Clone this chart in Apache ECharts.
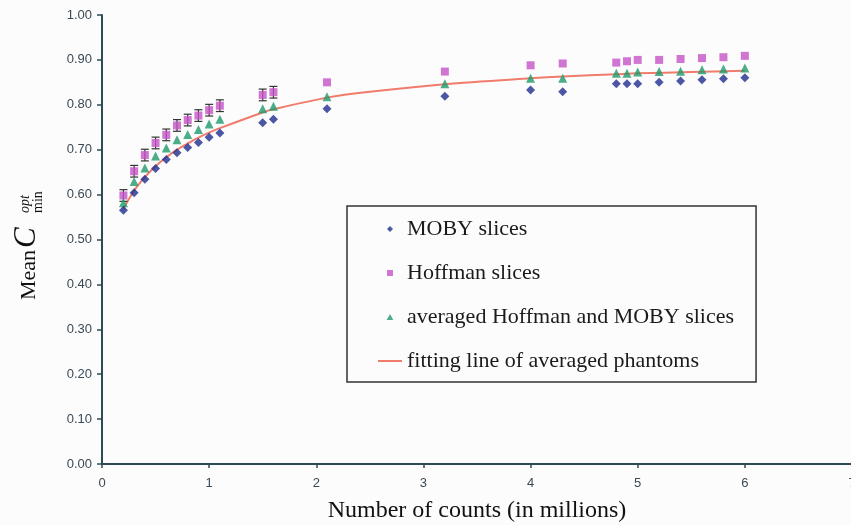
<!DOCTYPE html>
<html>
<head>
<meta charset="utf-8">
<script src="https://cdn.jsdelivr.net/npm/echarts@6/dist/echarts.min.js"></script>
<style>
html,body{margin:0;padding:0;background:#fdfcfc;}
#chart{width:851px;height:525px;}
</style>
</head>
<body>
<div id="chart"></div>
<script>
// Number of counts (millions)
var counts = [0.2,0.3,0.4,0.5,0.6,0.7,0.8,0.9,1.0,1.1,1.5,1.6,2.1,3.2,4.0,4.3,4.8,4.9,5.0,5.2,5.4,5.6,5.8,6.0];
var mobyValues = [0.565,0.604,0.634,0.658,0.678,0.693,0.705,0.716,0.728,0.737,0.760,0.768,0.791,0.819,0.833,0.829,0.847,0.847,0.847,0.850,0.853,0.856,0.858,0.860];
var hoffmanValues = [0.598,0.652,0.688,0.715,0.733,0.754,0.766,0.776,0.788,0.798,0.822,0.828,0.850,0.874,0.888,0.892,0.894,0.897,0.900,0.900,0.902,0.904,0.906,0.909];
var hoffmanErr = [0.013,0.013,0.013,0.013,0.013,0.013,0.013,0.013,0.013,0.013,0.013,0.013,0,0,0,0,0,0,0,0,0,0,0,0];
var averagedValues = [0.582,0.629,0.659,0.686,0.704,0.722,0.734,0.745,0.757,0.768,0.791,0.797,0.818,0.847,0.859,0.859,0.870,0.870,0.873,0.874,0.875,0.878,0.880,0.882];
var fitCounts = [0.2,0.3,0.4,0.5,0.6,0.7,0.8,0.9,1.0,1.1,1.5,1.6,2.1,2.5,3.2,4.0,4.3,4.8,5.0,5.5,6.0];
var fitValues = [0.568,0.609,0.639,0.663,0.683,0.700,0.714,0.727,0.738,0.748,0.783,0.790,0.816,0.829,0.846,0.859,0.863,0.868,0.870,0.873,0.876];
var xTicks = [0,1,2,3,4,5,6,7];
var seriesNames = ['MOBY slices','Hoffman slices','averaged Hoffman and MOBY slices','fitting line of averaged phantoms'];

function pairs(xs, ys){ return xs.map(function(x,i){ return [x, ys[i]]; }); }

var chart = echarts.init(document.getElementById('chart'), null, {renderer:'canvas'});
var axisColor = '#2f4a55';
var labelStyle = {fontFamily:'Liberation Sans', fontSize:13, color:'#3a4a55'};

var option = {
  backgroundColor:'#fdfcfc',
  animation:false,
  grid:{left:102, top:15, width:750, height:449, containLabel:false, outerBoundsMode:'none'},
  xAxis:{
    type:'value', min:0, max:7, interval:1,
    axisLine:{show:true, onZero:false, lineStyle:{color:axisColor, width:2}},
    axisTick:{show:true, length:4, lineStyle:{color:axisColor, width:1.5}},
    splitLine:{show:false},
    axisLabel:Object.assign({margin:13, formatter:function(v){return xTicks.indexOf(v)>=0? String(v):'';}}, labelStyle),
    name:'Number of counts (in millions)', nameLocation:'middle', nameGap:35,
    nameTextStyle:{fontFamily:'Liberation Serif', fontSize:24, color:'#111'}
  },
  yAxis:{
    type:'value', min:0, max:1, interval:0.1,
    axisLine:{show:true, lineStyle:{color:axisColor, width:2}},
    axisTick:{show:true, length:5, lineStyle:{color:axisColor, width:1.5}},
    splitLine:{show:false},
    axisLabel:Object.assign({margin:10, formatter:function(v){return v.toFixed(2);}}, labelStyle)
  },
  legend:{
    left:347, top:206, orient:'vertical',
    padding:[12,22,10,31],
    borderColor:'#333', borderWidth:1.5,
    itemWidth:24, itemHeight:6, itemGap:22,
    symbolKeepAspect:true,
    selectedMode:false,
    textStyle:{fontFamily:'Liberation Serif', fontSize:22, color:'#1a1a1a', lineHeight:22},
    data:[
      {name:seriesNames[0], icon:'path://M0,-1 L1,0 L0,1 L-1,0 Z'},
      {name:seriesNames[1], icon:'path://M0,0 L1,0 L1,1 L0,1 Z'},
      {name:seriesNames[2], icon:'path://M0,-1 L1,0.8 L-1,0.8 Z'},
      {name:seriesNames[3], icon:'path://M0,0 L24,0 L24,2 L0,2 Z', itemStyle:{color:'#f07c6c'}}
    ]
  },
  graphic:[{
    type:'group', x:30, y:245, rotation:Math.PI/2,
    children:[
      {type:'text', x:-55, y:-1, style:{text:'Mean', font:'22px "Liberation Serif"', fill:'#111', textAlign:'left', textVerticalAlign:'middle'}},
      {type:'text', x:-3, y:-3, style:{text:'C', font:'italic 31px "Liberation Serif"', fill:'#111', textAlign:'left', textVerticalAlign:'middle'}},
      {type:'text', x:32, y:-5, style:{text:'opt', font:'italic 14px "Liberation Serif"', fill:'#111', textAlign:'left', textVerticalAlign:'middle'}},
      {type:'text', x:32, y:8, style:{text:'min', font:'14px "Liberation Serif"', fill:'#111', textAlign:'left', textVerticalAlign:'middle'}}
    ]
  }],
  series:[
    {
      name:seriesNames[3], type:'line', data:pairs(fitCounts, fitValues),
      symbol:'none', smooth:0.3, z:2,
      lineStyle:{color:'#f07c6c', width:2}, itemStyle:{color:'#f07c6c'}
    },
    {
      name:'err', type:'custom', z:3,
      data:counts.map(function(x,i){ return [x, hoffmanValues[i]-hoffmanErr[i], hoffmanValues[i]+hoffmanErr[i], hoffmanErr[i]]; }),
      renderItem:function(params, api){
        if(api.value(3) <= 0) return null;
        var lo = api.coord([api.value(0), api.value(1)]);
        var hi = api.coord([api.value(0), api.value(2)]);
        var w = 4;
        var st = {stroke:'#333', lineWidth:1.2};
        return {type:'group', children:[
          {type:'line', shape:{x1:lo[0], y1:lo[1], x2:hi[0], y2:hi[1]}, style:st},
          {type:'line', shape:{x1:lo[0]-w, y1:lo[1], x2:lo[0]+w, y2:lo[1]}, style:st},
          {type:'line', shape:{x1:hi[0]-w, y1:hi[1], x2:hi[0]+w, y2:hi[1]}, style:st}
        ]};
      }
    },
    {
      name:seriesNames[1], type:'scatter', data:pairs(counts, hoffmanValues),
      symbol:'rect', symbolSize:8, z:4, itemStyle:{color:'#c452c6'}
    },
    {
      name:seriesNames[2], type:'scatter', data:pairs(counts, averagedValues),
      symbol:'triangle', symbolSize:9, z:5, itemStyle:{color:'#1f9a6c'}
    },
    {
      name:seriesNames[0], type:'scatter', data:pairs(counts, mobyValues),
      symbol:'diamond', symbolSize:9, z:6, itemStyle:{color:'#1e2d8e'}
    }
  ]
};
chart.setOption(option);
</script>
</body>
</html>
